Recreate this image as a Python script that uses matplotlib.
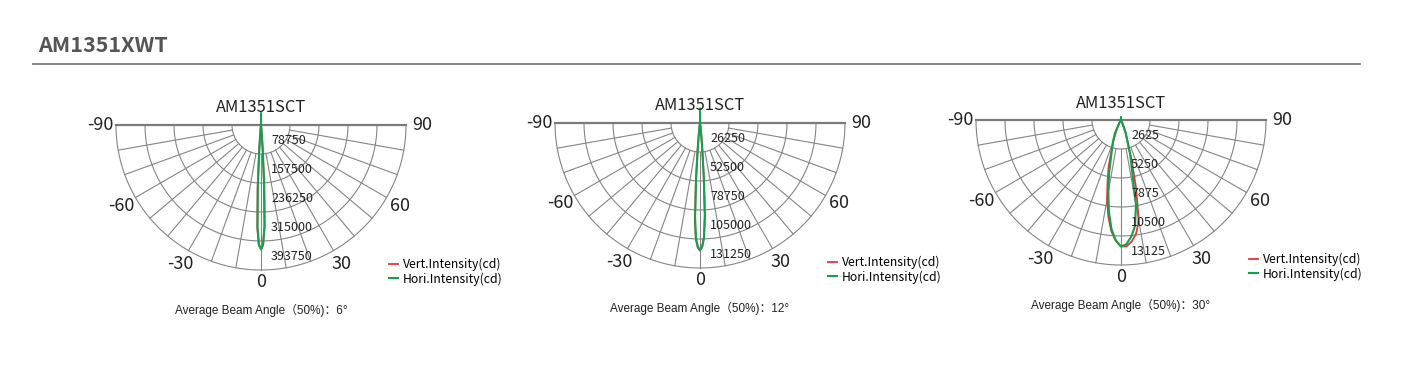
"""
Polar light distribution curves for AM1351XWT (three beam variants)
"""

import numpy as np
import matplotlib.pyplot as plt
from matplotlib.lines import Line2D

# ---- data ----
page_title = "AM1351XWT"
chart_title = "AM1351SCT"
beam_angles = [6, 12, 30]
ring_steps = [78750, 26250, 2625]          # intensity per ring (5 rings)

# chart 1 (6 deg)
ang_1 = [-90, -20, -10, -8, -6, -5, -4, -3, -2, -1, 0, 1, 2, 3, 4, 5, 6, 8, 10, 20, 90, 180]
vert_1 = [0, 0, 500, 2500, 10000, 28000, 74000, 175000, 282000, 327000, 337000,
          325000, 274000, 163000, 66000, 23000, 7500, 2000, 400, 0, 0, 0]
hori_1 = [0, 0, 0, 1500, 7000, 22000, 65000, 165000, 276000, 325000, 338000,
          325000, 276000, 165000, 65000, 22000, 7000, 1500, 0, 0, 0, 32000]

# chart 2 (12 deg)
ang_2 = [-90, -20, -10, -8, -6, -5, -4, -3, -2, -1, 0, 1, 2, 3, 4, 5, 6, 8, 10, 20, 90, 180]
vert_2 = [0, 0, 1000, 4200, 13000, 27000, 55000, 89000, 106000, 113000, 115500,
          112000, 103000, 83000, 48000, 23000, 11000, 3500, 800, 0, 0, 0]
hori_2 = [0, 0, 800, 3500, 11000, 24000, 50000, 85000, 104000, 112000, 115000,
          112000, 104000, 85000, 50000, 24000, 11000, 3500, 800, 0, 0, 13000]

# chart 3 (30 deg)
ang_3 = [-90, -40, -35, -30, -25, -20, -15, -12.5, -10, -7.5, -5, -2.5, 0,
         2.5, 5, 7.5, 10, 12.5, 15, 20, 25, 30, 35, 40, 90, 180]
vert_3 = [0, 0, 50, 300, 900, 2000, 4300, 5600, 7300, 8800, 10100, 10950, 11450,
          11450, 11050, 10400, 9300, 6300, 3600, 1100, 200, 0, 0, 0, 0, 0]
hori_3 = [0, 0, 0, 200, 1300, 2200, 3500, 5000, 6600, 8400, 9900, 10900, 11450,
          11250, 10600, 9700, 7800, 4500, 3200, 1300, 300, 0, 0, 0, 0, 250]

angles = [ang_1, ang_2, ang_3]
vert = [vert_1, vert_2, vert_3]
hori = [hori_1, hori_2, hori_3]

grid_angles = np.arange(-90, 91, 10)
angle_labels = [-90, -60, -30, 0, 30, 60, 90]

# ---- layout (pixels) ----
W, H = 1406, 388
centers = [(261, 125), (700, 123), (1121, 120)]
R = 145  # outer ring radius in px

RED = '#e8333a'
GREEN = '#14a04c'
GRID = '#858585'
CJK = ['Noto Sans CJK SC', 'DejaVu Sans']

fig = plt.figure(figsize=(W / 100, H / 100), dpi=100)
fig.patch.set_facecolor('white')

fig.text(38 / W, 1 - 45 / H, page_title, fontsize=15.5, fontweight='bold',
         color='#555555', family=CJK, ha='left', va='center')
fig.add_artist(Line2D([33 / W, 1360 / W], [1 - 64 / H, 1 - 64 / H],
                      transform=fig.transFigure, color='#7a7a7a', lw=1.3))


def to_xy(theta_deg, value):
    t = np.radians(np.asarray(theta_deg, dtype=float))
    v = np.asarray(value, dtype=float)
    return v * np.sin(t), -v * np.cos(t)


for i, (cx, cy) in enumerate(centers):
    step = ring_steps[i]
    rmax = 5 * step
    s = rmax / R  # data units per pixel
    left, right, top, bottom = cx - 230, cx + 260, cy - 30, cy + 200
    ax = fig.add_axes([left / W, 1 - bottom / H, (right - left) / W, (bottom - top) / H])
    ax.set_xlim((left - cx) * s, (right - cx) * s)
    ax.set_ylim(-(bottom - cy) * s, (cy - top) * s)
    ax.axis('off')
    ax.patch.set_alpha(0)

    # rings
    arc = np.linspace(-90, 90, 181)
    for k in range(1, 6):
        x, y = to_xy(arc, np.full_like(arc, k * step, dtype=float))
        ax.plot(x, y, color=GRID, lw=0.8, zorder=1)
    # spokes
    for a in grid_angles[1:-1]:
        x, y = to_xy([a, a], [step, rmax])
        ax.plot(x, y, color=GRID, lw=0.8, zorder=1)
    # top line (-90 .. 90)
    x, y = to_xy([-90, 90], [rmax, rmax])
    ax.plot(x, y, color='#7a7a7a', lw=1.6, zorder=1)

    # ring labels
    for k in range(1, 6):
        ax.text(10 * s, -(k - 0.45) * step, f"{k * step}", fontsize=9,
                family=CJK, color='#222222', ha='left', va='center', zorder=4)

    # angle labels
    for a in angle_labels:
        rr = 157 * s if a == 0 else 161 * s
        x, y = to_xy(a, rr)
        ax.text(x, y, f"{a}", fontsize=13, family=CJK, color='#222222',
                ha='center', va='center')

    # curves
    xv, yv = to_xy(angles[i], vert[i])
    xh, yh = to_xy(angles[i], hori[i])
    ax.plot(xv, yv, color=RED, lw=1.3, zorder=2, label='Vert.Intensity(cd)')
    ax.plot(xh, yh, color=GREEN, lw=1.5, zorder=3, label='Hori.Intensity(cd)')

    ax.text(0, 17 * s, chart_title, fontsize=11.8, family=CJK, color='#222222',
            ha='center', va='center', zorder=5)

    ax.legend(loc='upper left', bbox_to_anchor=(128 * s, -133 * s),
              bbox_transform=ax.transData, frameon=False,
              handlelength=0.75, handletextpad=0.4, labelspacing=0.1,
              borderpad=0, borderaxespad=0, prop={'family': CJK, 'size': 8.8})

    ax.text(0, -185 * s, f"Average Beam Angle（50%)：{beam_angles[i]}°",
            fontsize=8.5, family=['Liberation Sans', 'Noto Sans CJK SC'],
            color='#222222', ha='center', va='center')

fig.savefig('out.png', dpi=100, facecolor='white')
